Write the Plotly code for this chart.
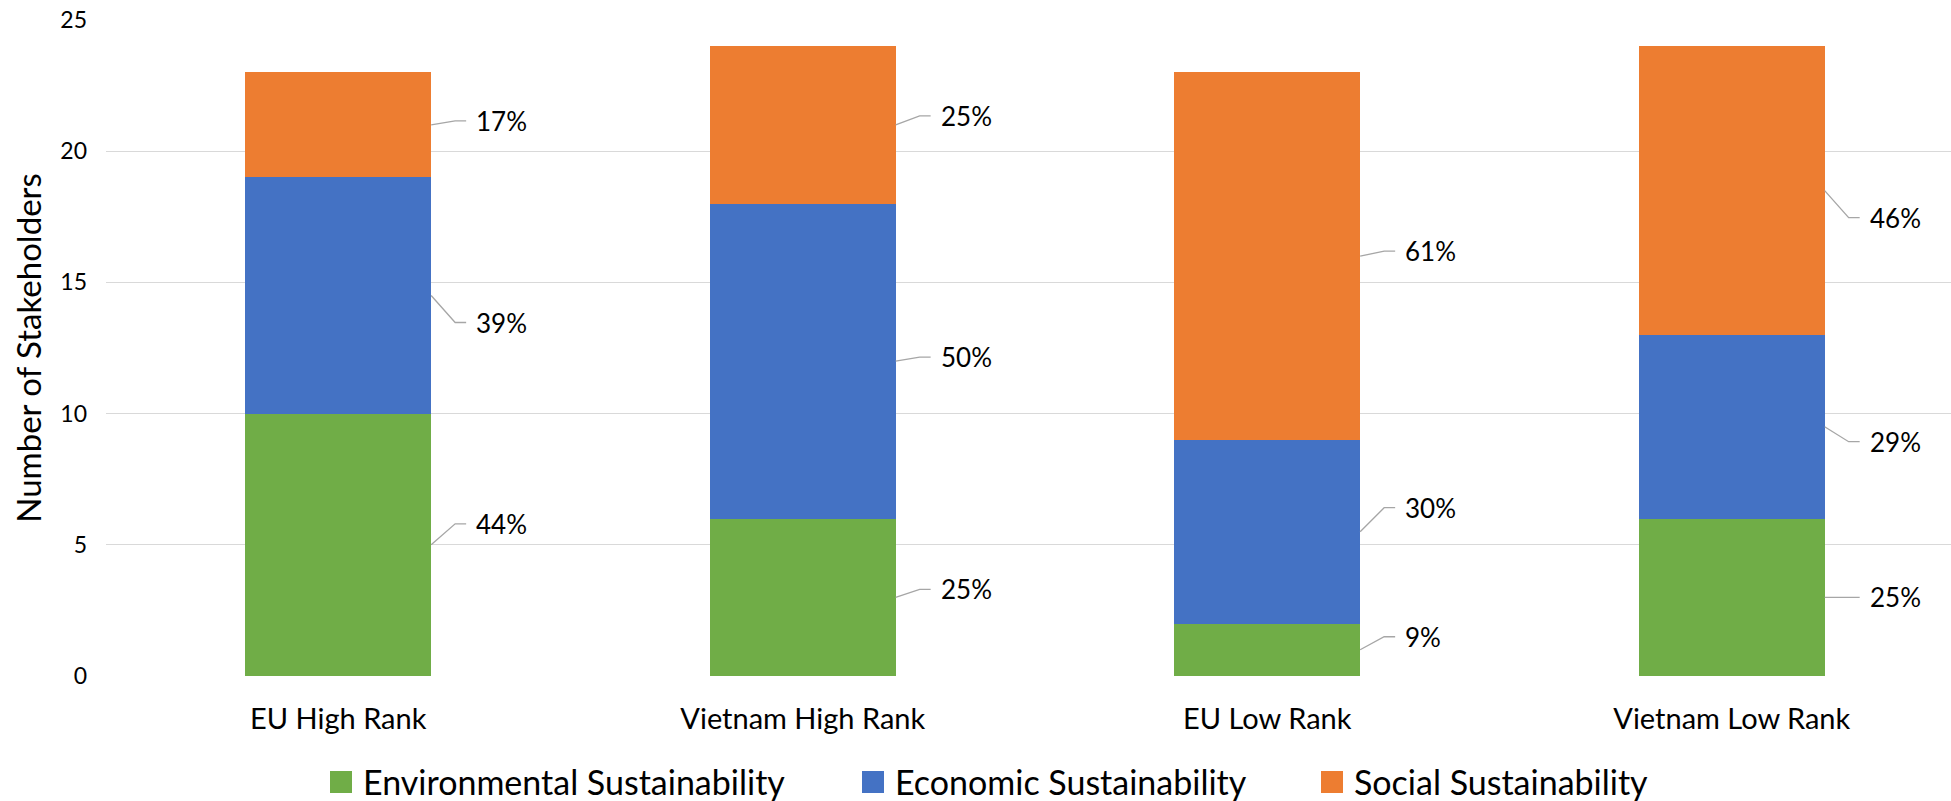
import plotly.graph_objects as go

# Stakeholder counts per group and sustainability dimension
categories = ["EU High Rank", "Vietnam High Rank", "EU Low Rank", "Vietnam Low Rank"]
environmental = [10, 6, 2, 6]
economic = [9, 12, 7, 7]
social = [4, 6, 14, 11]
# Share of each dimension within a group (%), as printed beside the bars
environmental_pct = [44, 25, 9, 25]
economic_pct = [39, 50, 30, 29]
social_pct = [17, 25, 61, 46]
y_ticks = [0, 5, 10, 15, 20, 25]

series = [
    ("Environmental Sustainability", environmental, environmental_pct, "#70AD47"),
    ("Economic Sustainability", economic, economic_pct, "#4472C4"),
    ("Social Sustainability", social, social_pct, "#ED7D31"),
]

# Vertical nudges of the data labels (pixels, up is positive), per series then per category
label_nudge_px = [
    [21, 8, 13, 0],
    [-27, 4, 24, -15],
    [4, 9, 5, -27],
]
# Legend layout below the chart (pixels from the page's top-left corner)
legend_text_px = [361, 893, 1352]
LEGEND_Y_PX = 781
LEGEND_BOX_PX = 22
LEGEND_BOX_GAP_PX = 9

FONT = "Lato, 'Open Sans', sans-serif"
W, H = 1951, 801
M_L, M_R, M_T, M_B = 106, 0, 20, 125
BAR_W = 0.40
X_RANGE = [-0.5, 3.472]
Y_RANGE = [0, 25]

plot_w = W - M_L - M_R
plot_h = H - M_T - M_B
px_per_x = plot_w / (X_RANGE[1] - X_RANGE[0])
px_per_y = plot_h / (Y_RANGE[1] - Y_RANGE[0])
x_pos = list(range(len(categories)))


def paper_x(px):
    return (px - M_L) / plot_w


def paper_y(py):
    return (H - M_B - py) / plot_h


fig = go.Figure()
for s_idx, (name, vals, pcts, color) in enumerate(series):
    fig.add_trace(go.Bar(
        name=name, x=x_pos, y=vals, width=BAR_W,
        marker=dict(color=color, line=dict(width=0)),
        hoverinfo="skip", showlegend=False,
    ))

# Leader lines and percentage labels to the right of each segment
lx, ly = [], []
annotations = []
for s_idx, (name, vals, pcts, color) in enumerate(series):
    for i, v in enumerate(vals):
        base = sum(series[k][1][i] for k in range(s_idx))
        mid = base + v / 2
        edge = x_pos[i] + BAR_W / 2
        y_lab = mid + label_nudge_px[s_idx][i] / px_per_y
        kink = edge + 24 / px_per_x
        end = edge + 35 / px_per_x
        lx += [edge, kink, end, None]
        ly += [mid, y_lab, y_lab, None]
        annotations.append(dict(
            x=edge + 43 / px_per_x, y=y_lab, xref="x", yref="y",
            text=f"{pcts[i]}%", showarrow=False, xanchor="left", yanchor="middle",
            font=dict(family=FONT, size=26, color="#000000"),
        ))

fig.add_trace(go.Scatter(
    x=lx, y=ly, mode="lines", line=dict(color="#A6A6A6", width=1.3),
    showlegend=False, hoverinfo="skip",
))

# Legend: colour swatch followed by the series name
shapes = []
for k, (name, vals, pcts, color) in enumerate(series):
    tx = legend_text_px[k]
    x1 = tx - LEGEND_BOX_GAP_PX
    x0 = x1 - LEGEND_BOX_PX
    shapes.append(dict(
        type="rect", xref="paper", yref="paper",
        x0=paper_x(x0), x1=paper_x(x1),
        y0=paper_y(LEGEND_Y_PX + 1 + LEGEND_BOX_PX / 2),
        y1=paper_y(LEGEND_Y_PX + 1 - LEGEND_BOX_PX / 2),
        fillcolor=color, line=dict(width=0),
    ))
    annotations.append(dict(
        x=paper_x(tx), y=paper_y(LEGEND_Y_PX), xref="paper", yref="paper",
        text=name, showarrow=False, xanchor="left", yanchor="middle",
        font=dict(family=FONT, size=34, color="#000000"),
    ))

fig.update_layout(
    width=W, height=H,
    margin=dict(l=M_L, r=M_R, t=M_T, b=M_B),
    paper_bgcolor="white", plot_bgcolor="white",
    barmode="stack",
    font=dict(family=FONT, color="#000000"),
    annotations=annotations,
    shapes=shapes,
    showlegend=False,
    xaxis=dict(
        range=X_RANGE, tickvals=x_pos, ticktext=categories,
        showgrid=False, zeroline=False, showline=False, ticks="",
        ticklabelstandoff=23,
        tickfont=dict(family=FONT, size=29, color="#000000"),
    ),
    yaxis=dict(
        range=Y_RANGE, tickvals=y_ticks, showgrid=True, gridcolor="#D9D9D9",
        gridwidth=1.3, zeroline=False, showline=False, ticks="",
        ticklabelstandoff=18,
        tickfont=dict(family=FONT, size=23, color="#000000"),
        title=dict(text="Number of Stakeholders", standoff=8,
                   font=dict(family=FONT, size=33, color="#000000")),
    ),
)

fig.write_html("out.html")
